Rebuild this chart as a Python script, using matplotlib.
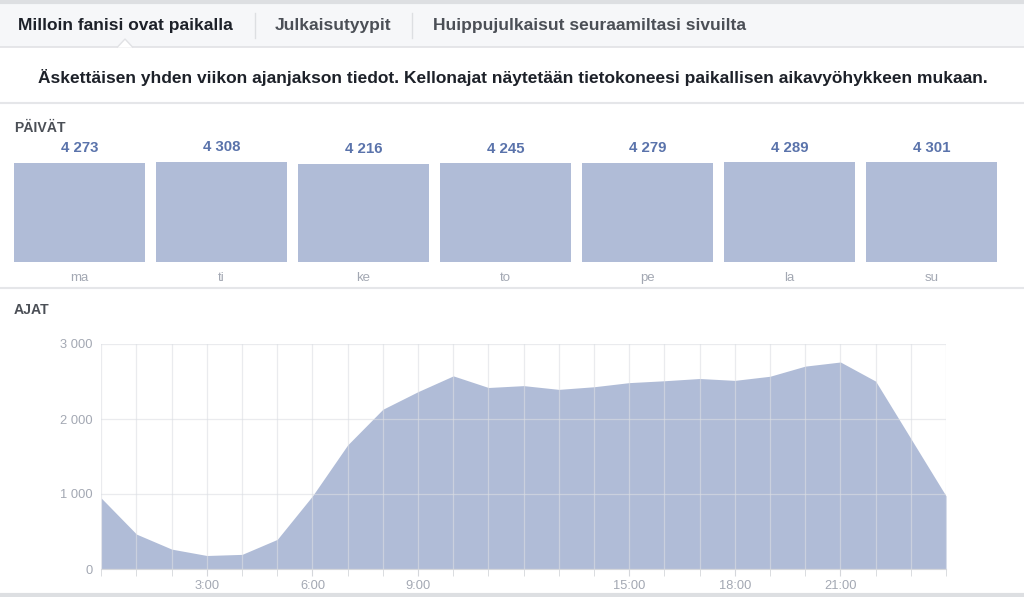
import matplotlib
matplotlib.use("Agg")
import matplotlib.pyplot as plt
from matplotlib.patches import Rectangle, Polygon
from matplotlib.lines import Line2D

# ---- data ----
days = ["ma", "ti", "ke", "to", "pe", "la", "su"]
day_values = [4273, 4308, 4216, 4245, 4279, 4289, 4301]
day_labels = ["4 273", "4 308", "4 216", "4 245", "4 279", "4 289", "4 301"]

hours = list(range(25))
hour_values = [945, 465, 265, 180, 195, 395, 975, 1655, 2130, 2365, 2575,
               2420, 2445, 2395, 2430, 2485, 2510, 2540, 2515, 2570, 2705,
               2760, 2505, 1740, 975]
hour_tick_pos = [3, 6, 9, 15, 18, 21]
hour_tick_labels = ["3:00", "6:00", "9:00", "15:00", "18:00", "21:00"]
y_ticks = [0, 1000, 2000, 3000]
y_tick_labels = ["0", "1 000", "2 000", "3 000"]

tabs = ["Milloin fanisi ovat paikalla", "Julkaisutyypit",
        "Huippujulkaisut seuraamiltasi sivuilta"]
subtitle = ("Äskettäisen yhden viikon ajanjakson tiedot. Kellonajat näytetään "
            "tietokoneesi paikallisen aikavyöhykkeen mukaan.")

plt.rcParams['font.family'] = ['Liberation Sans', 'DejaVu Sans']

W, H = 1024, 597
fig = plt.figure(figsize=(W / 100, H / 100), dpi=100)
fig.patch.set_facecolor("white")


def fx(x):
    return x / W


def fy(y):
    return 1 - y / H


def hline(y, x0=0, x1=W, color="#e5e6e9", lw=1.0):
    fig.add_artist(Line2D([fx(x0), fx(x1)], [fy(y), fy(y)], color=color,
                          lw=lw, transform=fig.transFigure))


# tab bar
fig.add_artist(Rectangle((0, fy(47)), 1, fy(0) - fy(47), transform=fig.transFigure,
                         facecolor="#f6f7f9", edgecolor="none", zorder=0))
hline(1.5, color="#dddfe2", lw=3)
hline(47, color="#e1e2e5", lw=1.2)
for xs in (255, 412):
    fig.add_artist(Line2D([fx(xs), fx(xs)], [fy(13), fy(38)], color="#dddfe2",
                          lw=1, transform=fig.transFigure))
fig.add_artist(Polygon([(fx(117), fy(47.6)), (fx(125), fy(39)), (fx(133), fy(47.6))],
                       closed=False, transform=fig.transFigure,
                       facecolor="white", edgecolor="#e1e2e5", lw=1.0, zorder=3))
tab_fs = 12.55
fig.text(fx(18), fy(25.5), tabs[0], fontsize=tab_fs, fontweight="bold",
         color="#1d2129", va="center", ha="left")
fig.text(fx(275), fy(25.5), tabs[1], fontsize=tab_fs, fontweight="bold",
         color="#4b4f56", va="center", ha="left")
fig.text(fx(433), fy(25.5), tabs[2], fontsize=tab_fs, fontweight="bold",
         color="#4b4f56", va="center", ha="left")

fig.text(fx(512.5), fy(77.5), subtitle, fontsize=12.5, fontweight="bold",
         color="#1d2129", va="center", ha="center")
hline(103, color="#e5e6e9", lw=1.5)

# section: PÄIVÄT
fig.text(fx(14), fy(128), "PÄIVÄT", fontsize=10.1, fontweight="bold",
         color="#4b4f56", va="center", ha="left")

bar_color = "#b0bcd7"
ax1 = fig.add_axes([fx(8.5), fy(262), fx(994), fy(162) - fy(262)])
ax1.bar(range(len(days)), day_values, width=131 / 142, color=bar_color,
        edgecolor="none")
ax1.set_xlim(-0.5, len(days) - 0.5)
ax1.set_ylim(0, max(day_values))
for i, (v, lab) in enumerate(zip(day_values, day_labels)):
    ax1.annotate(lab, (i, v), xytext=(0, 5.5), textcoords="offset points",
                 ha="center", va="bottom", fontsize=10.8, fontweight="bold",
                 color="#5a73ab", annotation_clip=False)
ax1.set_xticks(range(len(days)))
ax1.set_xticklabels(days, fontsize=9.5, color="#a3a8b3")
ax1.tick_params(axis="x", length=0, pad=7)
ax1.set_yticks([])
for s in ax1.spines.values():
    s.set_visible(False)
ax1.patch.set_visible(False)

hline(288, color="#e5e6e9", lw=1.5)

# section: AJAT
fig.text(fx(14), fy(310), "AJAT", fontsize=10.1, fontweight="bold",
         color="#4b4f56", va="center", ha="left")

ax2 = fig.add_axes([fx(101.3), fy(569), fx(946) - fx(101.3), fy(344) - fy(569)])
ax2.fill_between(hours, hour_values, 0, color=bar_color, lw=0, zorder=1)
ax2.set_xlim(0, 24)
ax2.set_ylim(0, 3000)
ax2.set_xticks(hours, minor=True)
ax2.set_xticks(hour_tick_pos)
ax2.set_xticklabels(hour_tick_labels, fontsize=9.3, color="#a3a8b3")
ax2.set_yticks(y_ticks)
ax2.set_yticklabels(y_tick_labels, fontsize=9.3, color="#a3a8b3")
ax2.tick_params(axis="x", which="both", length=5, color="#d5d7db", pad=3)
ax2.tick_params(axis="y", length=0, pad=6)
ax2.grid(True, which="both", axis="x", color="#dcdee3", lw=0.9, alpha=0.6, zorder=2)
ax2.grid(True, which="major", axis="y", color="#dcdee3", lw=0.9, alpha=0.6, zorder=2)
ax2.set_axisbelow(False)
for k in ("top", "right", "left"):
    ax2.spines[k].set_visible(False)
ax2.spines["bottom"].set_color("#d5d7db")
ax2.patch.set_visible(False)

hline(594.5, color="#dddfe2", lw=3)

fig.savefig("out.png", dpi=100, facecolor="white")
